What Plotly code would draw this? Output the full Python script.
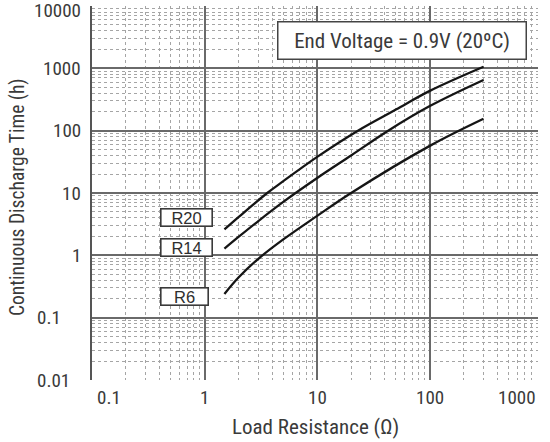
import math
import plotly.graph_objects as go

# readings taken off the chart (load resistance in ohm, time in hours)
r20_ohm = [1.5, 2, 3.6, 5, 10, 23, 50, 100, 300]
r20_hours = [2.6, 4.1, 10, 15.5, 38, 100, 218, 435, 1060]

r14_ohm = [1.5, 2, 3, 5, 10, 20, 42, 100, 300]
r14_hours = [1.28, 1.97, 3.55, 7.2, 17.4, 40, 98, 248, 650]

r6_ohm = [1.5, 2, 3, 5, 10, 20, 100, 300]
r6_hours = [0.24, 0.44, 0.88, 1.8, 4.3, 10, 57, 155]

cell_names = ["R20", "R14", "R6"]

x_tick_vals = [0.1, 1, 10, 100, 1000]
x_tick_text = ["0.1", "1", "10", "100", "1000"]
y_tick_vals = [0.01, 0.1, 1, 10, 100, 1000, 10000]
y_tick_text = ["0.01", "0.1", "1", "10", "100", "1000", "10000"]

note_text = "End Voltage = 0.9V (20ºC)"
x_title = "Load Resistance (Ω)"
y_title = "Continuous Discharge Time (h)"

# plot area in page pixels
W, H = 550, 442
L, R, T, B = 92, 538, 6, 380
XMAX = 2.961  # log10 of the right edge
TXT = "#3a3a3a"
NARROW = "Roboto Condensed, Liberation Sans Narrow, Liberation Sans, sans-serif"


def px(x):
    return (x - L) / (R - L)


def py(y):
    return (B - y) / (B - T)


fig = go.Figure()
for xs, ys in [(r20_ohm, r20_hours), (r14_ohm, r14_hours), (r6_ohm, r6_hours)]:
    fig.add_trace(go.Scatter(x=xs, y=ys, mode="lines",
                             line=dict(color="#151515", width=2.3, shape="spline", smoothing=1),
                             showlegend=False, hoverinfo="skip"))

annos = []
# x tick labels
for i, (v, t) in enumerate(zip(x_tick_vals, x_tick_text)):
    if i == 0:
        a = dict(x=px(95), xanchor="left")
    elif i == len(x_tick_vals) - 1:
        a = dict(x=1, xanchor="right")
    else:
        a = dict(x=(math.log10(v) + 1) / (XMAX + 1), xanchor="center")
    a.update(xref="paper", y=0, yref="paper", yanchor="middle", yshift=-17,
             text=t, showarrow=False, font=dict(size=19, color=TXT, family=NARROW))
    annos.append(a)
# y tick labels
for v, t in zip(y_tick_vals, y_tick_text):
    if v < 1:
        a = dict(x=px(35), xanchor="left")
    else:
        a = dict(x=px(83), xanchor="right")
    yy = math.log10(v)
    if v == 10000:
        yy = 3.93  # keep the top label inside the page
    a.update(xref="paper", y=yy, yref="y", yanchor="middle", text=t, showarrow=False,
             font=dict(size=19, color=TXT, family=NARROW))
    annos.append(a)

# axis titles
annos.append(dict(x=0.5, xref="paper", y=0, yref="paper", xanchor="center", yanchor="middle",
                  yshift=-47, text=x_title, showarrow=False,
                  font=dict(size=21, color=TXT, family=NARROW)))
annos.append(dict(x=px(17), xref="paper", y=py(197), yref="paper", textangle=-90,
                  xanchor="center", yanchor="middle",
                  text=y_title, showarrow=False, font=dict(size=19.5, color=TXT, family=NARROW)))

# condition box
annos.append(dict(x=px(401.5), y=py(40), xref="paper", yref="paper",
                  xanchor="center", yanchor="middle", text=note_text,
                  showarrow=False, width=243, height=32, bgcolor="white",
                  bordercolor="#444", borderwidth=1.5, borderpad=2,
                  font=dict(size=21, color=TXT, family=NARROW)))

# cell labels next to the curve starts
label_pos = [(186, 217, 48), (186, 248, 48), (184, 296, 44)]
for name, (cx, cy, w) in zip(cell_names, label_pos):
    annos.append(dict(x=px(cx), y=py(cy), xref="paper", yref="paper",
                      xanchor="center", yanchor="middle", text=name,
                      showarrow=False, width=w, height=14, bgcolor="white",
                      bordercolor="#3a3a3a", borderwidth=1.6, borderpad=1,
                      font=dict(size=16.5, color="#2e2e2e",
                                family="Liberation Sans, Arial, sans-serif")))

grid_major = dict(showgrid=True, gridcolor="#6a6a6a", gridwidth=1.6, dtick=1,
                  showticklabels=False, ticks="", zeroline=False,
                  minor=dict(dtick="D1", showgrid=True, gridcolor="#a5a5a5",
                             gridwidth=1, griddash="dot", ticks=""))

fig.update_xaxes(type="log", range=[-1, XMAX], **grid_major)
fig.update_yaxes(type="log", range=[-2, 4], showline=True, linecolor="#555", linewidth=1.5,
                 **grid_major)

fig.update_layout(width=W, height=H, margin=dict(l=L, r=W - R, t=T, b=H - B),
                  paper_bgcolor="white", plot_bgcolor="white",
                  annotations=annos)

# page body has a default 8px margin, drop it so the figure sits at the window corner
fig.write_html("out.html", config={"displayModeBar": False},
               post_script="document.body.style.margin='0px';")
